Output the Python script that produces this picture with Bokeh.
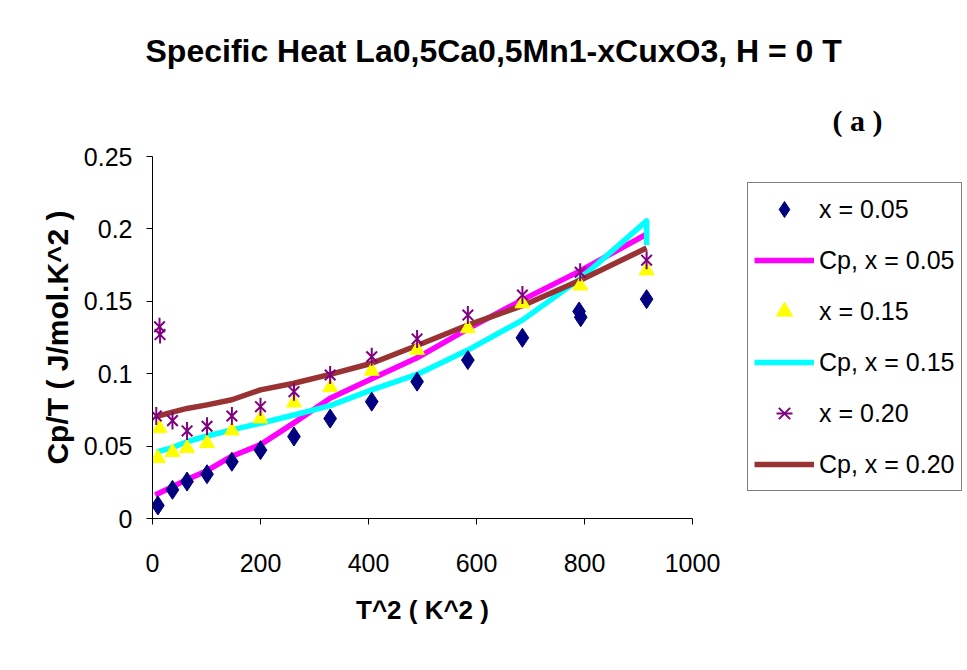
from bokeh.plotting import figure
from bokeh.models import Range1d, FixedTicker, Legend, LegendItem, Title
from bokeh.embed import file_html
from bokeh.resources import INLINE

# ---------------- data ----------------
title_text = "Specific Heat La0,5Ca0,5Mn1-xCuxO3, H = 0 T"
panel_text = "( a )"
x_title = "T^2 ( K^2 )"
y_title = "Cp/T ( J/mol.K^2 )"

x_ticks = [0, 200, 400, 600, 800, 1000]
y_ticks = [0, 0.05, 0.1, 0.15, 0.2, 0.25]
y_tick_labels = ["0", "0.05", "0.1", "0.15", "0.2", "0.25"]

# measured points, x = 0.05 (diamonds)
t2_005 = [10, 37, 64, 101, 147, 200, 262, 329, 406, 490, 584, 685, 790, 793, 915]
cp_005 = [0.009, 0.0198, 0.0255, 0.0306, 0.0392, 0.0472, 0.0566, 0.069, 0.0807,
          0.0945, 0.1094, 0.1248, 0.143, 0.139, 0.1515]

# measured points, x = 0.15 (triangles)
t2_015 = [10, 13, 37, 64, 101, 147, 200, 262, 329, 406, 490, 584, 685, 792, 915]
cp_015 = [0.0417, 0.0623, 0.0458, 0.0486, 0.052, 0.0607, 0.069, 0.080, 0.0906,
          0.1019, 0.1163, 0.1313, 0.1485, 0.1608, 0.1712]

# measured points, x = 0.20 (stars)
t2_020 = [7, 13, 14, 37, 64, 101, 147, 200, 262, 329, 406, 490, 584, 685, 792, 915]
cp_020 = [0.0708, 0.1324, 0.127, 0.0676, 0.0605, 0.0637, 0.0708, 0.0772, 0.0876,
          0.0991, 0.1117, 0.124, 0.1405, 0.1543, 0.170, 0.1784]

# fitted Cp curves
fit_t2_005 = [5, 37, 64, 101, 147, 200, 262, 329, 406, 490, 584, 685, 792, 918]
fit_cp_005 = [0.0163, 0.022, 0.027, 0.033, 0.043, 0.051, 0.066, 0.083, 0.0965,
              0.111, 0.131, 0.151, 0.171, 0.197]

fit_t2_015 = [8, 37, 64, 101, 147, 200, 262, 329, 406, 490, 584, 685, 792, 915, 915]
fit_cp_015 = [0.046, 0.049, 0.053, 0.057, 0.0612, 0.0658, 0.0715, 0.078, 0.0888,
              0.0995, 0.1163, 0.137, 0.1655, 0.2055, 0.1888]

fit_t2_020 = [8, 37, 64, 101, 147, 200, 262, 329, 406, 490, 584, 685, 792, 915]
fit_cp_020 = [0.0705, 0.0735, 0.076, 0.0785, 0.082, 0.0888, 0.0934, 0.0995, 0.1072,
              0.1195, 0.1336, 0.147, 0.1646, 0.1868]

legend_labels = ["x = 0.05", "Cp, x = 0.05", "x = 0.15", "Cp, x = 0.15",
                 "x = 0.20", "Cp, x = 0.20"]

# ---------------- styling ----------------
SANS = "Liberation Sans"
SERIF = "Liberation Serif"
NAVY = "#000080"
YELLOW = "#FFFF00"
PURPLE = "#800080"
MAGENTA = "#FF00FF"
CYAN = "#00FFFF"
BROWN = "#993333"

W, H = 967, 670
LEFT, TOP, BOTTOM = 152, 156, 152
AXIS_PX = 540          # pixels spanned by the 0..1000 axis
X_MAX = 1000
frame_w = W - LEFT
x_end = X_MAX * frame_w / AXIS_PX   # frame continues to the right edge (legend area)

p = figure(width=W, height=H,
           x_range=Range1d(0, x_end), y_range=Range1d(0, 0.25),
           output_backend="svg", toolbar_location=None,
           min_border_left=LEFT, min_border_right=0,
           min_border_top=TOP, min_border_bottom=BOTTOM)
p.background_fill_color = "white"
p.border_fill_color = "white"
p.outline_line_color = None
p.xgrid.visible = False
p.ygrid.visible = False

# axes
p.xaxis.ticker = FixedTicker(ticks=x_ticks)
p.xaxis.bounds = (0, X_MAX)
p.yaxis.ticker = FixedTicker(ticks=y_ticks)
p.yaxis.major_label_overrides = {t: l for t, l in zip(y_ticks, y_tick_labels)}
for ax in (p.xaxis, p.yaxis):
    ax.axis_line_color = "black"
    ax.axis_line_width = 1
    ax.major_tick_line_color = "black"
    ax.major_tick_in = 0
    ax.major_tick_out = 6
    ax.minor_tick_line_color = None
    ax.major_label_text_font = SANS
    ax.major_label_text_font_size = "25px"
    ax.major_label_text_color = "black"
    ax.axis_label_text_font = SANS
    ax.axis_label_text_font_style = "bold"
    ax.axis_label_text_color = "black"
p.yaxis.axis_label = y_title
p.xaxis.major_label_standoff = 29
p.yaxis.major_label_standoff = 14
p.yaxis.axis_label_text_font_size = "30px"
p.yaxis.axis_label_standoff = 7

# x-axis title centred under the 0..1000 axis (the frame runs on under the legend)
x_title_size = 26
x_title_width = 5.113 * x_title_size   # Arial-bold advance widths of "T^2 ( K^2 )"
p.add_layout(Title(text=x_title, align="left",
                   offset=AXIS_PX / 2 - x_title_width / 2,
                   text_font=SANS, text_font_style="bold",
                   text_font_size=f"{x_title_size}px", text_color="black",
                   standoff=37), "below")

# fitted lines first
l1 = p.line(fit_t2_005, fit_cp_005, line_color=MAGENTA, line_width=5.5, line_join="round")
l2 = p.line(fit_t2_015, fit_cp_015, line_color=CYAN, line_width=5.5, line_join="round")
l3 = p.line(fit_t2_020, fit_cp_020, line_color=BROWN, line_width=5.5, line_join="round")

# markers
m1 = p.scatter(t2_005, cp_005, marker="diamond", size=19, fill_color=NAVY, line_color=NAVY)
m2 = p.scatter(t2_015, cp_015, marker="triangle", size=15, fill_color=YELLOW, line_color=YELLOW)
m3a = p.scatter(t2_020, cp_020, marker="x", size=15, line_color=PURPLE, line_width=2)
m3b = p.scatter(t2_020, cp_020, marker="dash", angle=1.5708, size=18, line_color=PURPLE, line_width=2)

legend = Legend(items=[
    LegendItem(label=legend_labels[0], renderers=[m1]),
    LegendItem(label=legend_labels[1], renderers=[l1]),
    LegendItem(label=legend_labels[2], renderers=[m2]),
    LegendItem(label=legend_labels[3], renderers=[l2]),
    LegendItem(label=legend_labels[4], renderers=[m3a, m3b]),
    LegendItem(label=legend_labels[5], renderers=[l3]),
], location=(595, 27))
legend.label_text_font = SANS
legend.label_text_font_size = "25px"
legend.label_text_color = "black"
legend.glyph_width = 60
legend.glyph_height = 40
legend.label_height = 40
legend.label_standoff = 5
legend.spacing = 11
legend.padding = 6
legend.margin = 0
legend.border_line_color = "black"
legend.border_line_width = 1
legend.background_fill_color = "white"
legend.background_fill_alpha = 1
p.add_layout(legend)

# panel label, nearest the frame in the top panel
p.add_layout(Title(text=panel_text, align="left", offset=680,
                   text_font=SERIF, text_font_style="bold",
                   text_font_size="30px", text_color="black",
                   standoff=39), "above")

# main title
p.title.text = title_text
p.title.align = "left"
p.title.offset = -7
p.title.text_font = SANS
p.title.text_font_style = "bold"
p.title.text_font_size = "32px"
p.title.text_color = "black"
p.title.standoff = 28

open("out.html", "w").write(file_html(p, INLINE))
